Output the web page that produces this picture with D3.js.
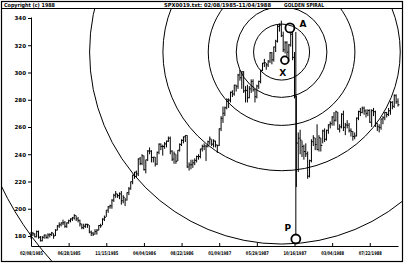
<!DOCTYPE html>
<html><head><meta charset="utf-8">
<script src="https://cdn.jsdelivr.net/npm/d3@7"></script>
<style>html,body{margin:0;padding:0;background:#fff;}svg{display:block;}</style>
</head><body>
<svg id="c" width="404" height="263"></svg>
<script>
// ---------- data ----------
const startDate = "02/08/1985";
const endDate = "11/04/1988";
const high85 = [183,183,182,184,184,180,180,181,181,182,182,183,182,185,188,190,190,192,191,190,192,193,194,196,195,194,192,189,189,189,189,188,184,183,185,185,188,189,193,195,199,202,203,207,211,213,211];
const low85  = [178,180,179,179,178,176,176,178,178,178,179,180,178,180,184,186,187,188,186,186,189,190,191,192,191,190,187,185,185,186,186,182,180,180,181,181,184,186,188,191,194,197,200,200,205,208,208];
const close85= [182.2,181.6,179.4,183.2,179.1,176.5,179.0,180.7,179.0,180.8,181.1,182.2,180.1,184.3,187.4,188.3,189.6,189.7,187.1,189.6,191.2,192.5,193.3,195.1,192.6,191.5,188.9,186.1,187.2,188.6,188.2,182.9,182.1,181.3,183.2,184.3,187.7,187.5,192.4,193.7,199.0,201.5,202.2,206.3,209.9,210.9,209.6];
const high86 = [212,213,210,208,212,216,220,225,227,228,237,238,240,239,236,243,245,243,238,238,242,248,248,247,249,250,253,253,243,242,240,243,248,251,253,254,254,234,236,236,237,239,240,244,247,248,247,250,253,251,251,250];
const low86  = [207,203,204,202,206,210,214,218,222,223,224,232,232,228,226,235,240,234,234,231,232,240,243,239,244,245,249,240,235,233,233,235,242,246,248,249,230,228,229,230,232,234,236,237,242,243,235,245,247,246,245,245];
const close86= [210.9,205.9,208.4,206.4,211.8,214.6,219.8,224.6,226.9,225.6,236.6,233.3,238.9,228.7,235.9,242.4,242.3,237.7,237.9,232.8,241.4,247.4,245.7,245.7,247.6,249.6,251.8,242.2,236.4,240.2,234.9,243.0,247.2,250.2,252.8,253.8,230.7,232.2,232.3,233.7,235.5,238.3,238.3,243.9,245.8,246.0,245.9,249.2,251.2,247.4,249.7,246.8];
const high87 = [247,259,268,275,275,281,281,286,287,291,291,299,302,301,301,290,291,290,295,295,288,291,294,302,307,310,307,309,315,315,319,324,335,336,338,330,323,323,321,329,330,315,283,256,258,250,247,248,242,236,251,254];
const low87  = [241,246,257,263,268,273,274,278,282,283,286,288,294,288,285,278,278,281,285,286,278,281,288,292,301,304,302,304,307,306,308,315,322,330,326,315,314,312,308,319,309,281,216,227,240,238,236,238,222,223,234,246];
const close87= [246.5,258.7,266.3,270.1,274.1,280.0,279.7,285.5,284.2,290.7,289.9,298.2,296.1,300.5,286.5,286.9,281.5,288.0,293.4,287.4,282.2,290.1,293.5,301.6,306.9,307.2,305.6,308.4,314.5,309.3,318.7,323.0,333.9,334.8,327.0,316.7,321.9,314.9,320.2,328.1,311.1,282.7,248.2,251.8,250.4,245.6,242.0,240.3,223.9,235.3,249.2,252.0];
const high88 = [252,262,254,252,258,259,258,262,264,268,271,272,271,262,270,272,263,265,263,259,257,256,267,272,274,275,275,273,273,273,273,274,272,263,262,266,268,271,271,274,279,279,284,284,281];
const low88  = [243,243,242,242,248,249,250,255,259,261,261,264,258,256,259,257,254,259,256,253,250,251,253,265,268,270,269,267,268,263,260,268,260,257,256,258,262,265,267,268,269,273,274,277,275];
const close88= [247.1,243.4,252.1,246.5,257.1,251.0,257.6,261.6,262.5,267.3,264.9,271.1,258.5,260.1,269.4,259.8,261.5,261.3,257.5,256.8,253.0,253.4,266.5,271.3,270.7,273.8,271.8,270.0,272.1,263.5,272.0,271.2,262.7,260.2,259.7,265.9,266.8,270.7,269.2,271.9,278.1,275.2,283.0,278.5,276.3];

const xTickLabels = ["02/08/1985","06/28/1985","11/15/1985","04/04/1986","08/22/1986","01/09/1987","05/29/1987","10/16/1987","03/04/1988","07/22/1988"];
const yTickValues = [180,200,220,240,260,280,300,320,340];

const headerLeft = "Copyright (c) 1988";
const headerTitle = "SPX0019.txt: 02/08/1985-11/04/1988";
const headerStudy = "GOLDEN SPIRAL";

const pointLabels = ["A","X","P"];
const pointDates  = ["09/29/1987","09/10/1987","10/21/1987"];
const pointValues = [332.7, 309, 177.8];

const spiralCenterDate = "08/29/1987";
const spiralCenterValue = 315;
const spiralOuterRadius = 228;          // in price points
const spiralSteps = [0,1,2,3,4,5];      // radius = outer / phi^k

// ---------- build ----------
const parse = d3.timeParse("%m/%d/%Y");
const high = [...high85,...high86,...high87,...high88];
const low = [...low85,...low86,...low87,...low88];
const close = [...close85,...close86,...close87,...close88];
const t0 = parse(startDate);
const bars = high.map((h,i)=>({date:d3.timeWeek.offset(t0,i),high:h,low:low[i],close:close[i]}));

const svg = d3.select("#c");
const W=404,H=263;
const FONT = "'DejaVu Sans', sans-serif";

const x = d3.scaleTime().domain([parse(startDate), parse(endDate)]).range([31, 398]);
const y = d3.scaleLinear().domain([172.66, 340.73]).range([246, 17]);

// frame
svg.append("rect").attr("x",1.5).attr("y",1.5).attr("width",W-3).attr("height",H-3)
  .attr("fill","none").attr("stroke","#000").attr("stroke-width",1.2);
svg.append("line").attr("x1",1.5).attr("x2",W-1.5).attr("y1",8.5).attr("y2",8.5)
  .attr("stroke","#000").attr("stroke-width",1.2);

// header
svg.append("text").attr("x",4).attr("y",7).text(headerLeft)
  .attr("font-family",FONT).attr("font-weight","bold").attr("font-size",5.5)
  .attr("textLength",51).attr("lengthAdjust","spacingAndGlyphs");
svg.append("text").attr("x",164).attr("y",7).text(headerTitle)
  .attr("font-family",FONT).attr("font-weight","bold").attr("font-size",5.5)
  .attr("textLength",107).attr("lengthAdjust","spacingAndGlyphs");
svg.append("text").attr("x",284).attr("y",7).text(headerStudy)
  .attr("font-family",FONT).attr("font-weight","bold").attr("font-size",5.5)
  .attr("textLength",40).attr("lengthAdjust","spacingAndGlyphs");

// clip
svg.append("clipPath").attr("id","clip").append("rect")
  .attr("x",2).attr("y",9).attr("width",W-4).attr("height",H-11);

// axes
const gy = svg.append("g").attr("transform","translate(31,0)")
  .call(d3.axisLeft(y).tickValues(yTickValues).tickSize(3).tickSizeOuter(0).tickPadding(2).tickFormat(d3.format("d")));
gy.selectAll("text").attr("font-family",FONT).attr("font-weight","bold").attr("font-size",5.5).attr("fill","#000");
gy.selectAll("line,path").attr("stroke","#000");

const gx = svg.append("g").attr("transform","translate(0,246)")
  .call(d3.axisBottom(x).tickValues(xTickLabels.map(parse)).tickSize(-3).tickSizeOuter(0).tickPadding(5.5)
    .tickFormat((d,i)=>xTickLabels[i]));
gx.selectAll("text").attr("font-family",FONT).attr("font-weight","bold").attr("font-size",5)
  .attr("fill","#000").attr("textLength",23).attr("lengthAdjust","spacingAndGlyphs");
gx.selectAll("line,path").attr("stroke","#000");

// bars
const gb = svg.append("g").attr("stroke","#000").attr("stroke-width",1);
gb.selectAll("line.hl").data(bars).join("line").attr("class","hl")
  .attr("x1",d=>x(d.date)).attr("x2",d=>x(d.date))
  .attr("y1",d=>y(d.low)).attr("y2",d=>y(d.high));
gb.selectAll("line.cl").data(bars).join("line").attr("class","cl")
  .attr("x1",d=>x(d.date)).attr("x2",d=>x(d.date)+1.5)
  .attr("y1",d=>y(d.close)).attr("y2",d=>y(d.close));

// spiral circles
const phi = (1+Math.sqrt(5))/2;
const cx = x(parse(spiralCenterDate)), cy = y(spiralCenterValue);
svg.append("g").attr("clip-path","url(#clip)").selectAll("circle").data(spiralSteps).join("circle")
  .attr("cx",cx).attr("cy",cy)
  .attr("r",k=>Math.abs(y(spiralCenterValue + spiralOuterRadius/Math.pow(phi,k)) - cy))
  .attr("fill","none").attr("stroke","#000").attr("stroke-width",1);

// points
const pts = pointLabels.map((l,i)=>({label:l,x:x(parse(pointDates[i])),y:y(pointValues[i])}));
const A = pts[0], X = pts[1], P = pts[2];
svg.append("line").attr("x1",P.x).attr("x2",P.x).attr("y1",A.y+4).attr("y2",P.y-5)
  .attr("stroke","#000").attr("stroke-width",1);
svg.selectAll("circle.pt").data(pts).join("circle").attr("class","pt")
  .attr("cx",d=>d.x).attr("cy",d=>d.y).attr("r",d=>d.label==="X"?3.8:4.5)
  .attr("fill","none").attr("stroke","#000").attr("stroke-width",1.8);
const labOff = {A:[13,-3],X:[-2,13],P:[-8,-10]};
svg.selectAll("text.pt").data(pts).join("text").attr("class","pt")
  .attr("x",d=>d.x+labOff[d.label][0]).attr("y",d=>d.y+labOff[d.label][1])
  .attr("text-anchor","middle").attr("dominant-baseline","middle")
  .attr("font-family",FONT).attr("font-weight","bold").attr("font-size",9).text(d=>d.label);
</script>
</body></html>
